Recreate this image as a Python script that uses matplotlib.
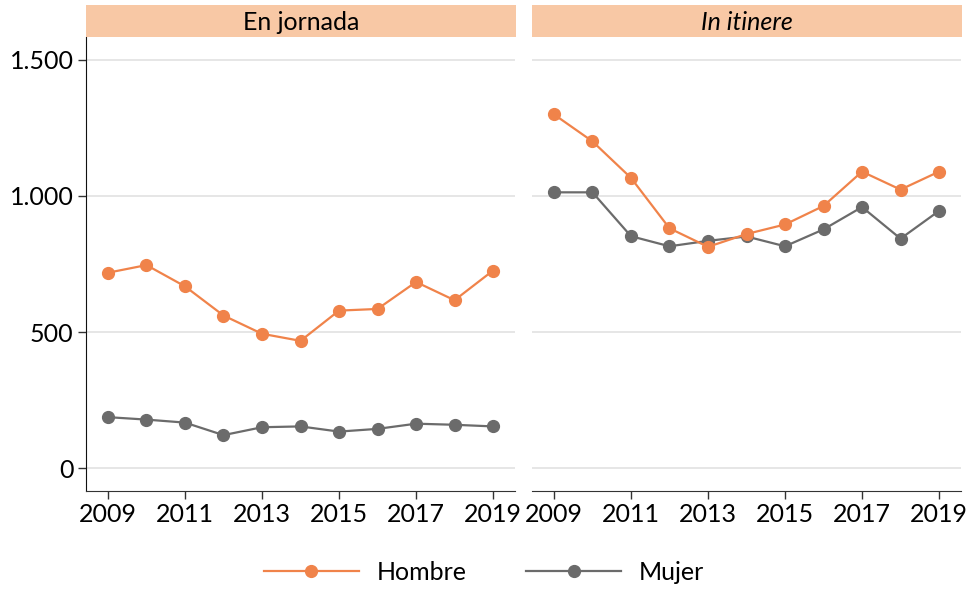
import matplotlib.pyplot as plt
from matplotlib.lines import Line2D
from matplotlib.ticker import FuncFormatter

plt.rcParams['font.family'] = ['Lato', 'DejaVu Sans']

years = list(range(2009, 2020))
paneles = ['En jornada', 'In itinere']

# valores
hombre_jornada = [718, 746, 668, 561, 494, 468, 579, 585, 684, 617, 726]
mujer_jornada = [188, 179, 168, 122, 151, 154, 135, 145, 164, 160, 154]
hombre_itinere = [1299, 1200, 1066, 881, 813, 860, 895, 963, 1089, 1023, 1089]
mujer_itinere = [1013, 1013, 852, 815, 835, 851, 815, 877, 959, 843, 945]

naranja = '#F0834A'
gris = '#6B6B6B'
franja = '#F8C8A5'

W, H = 974, 589
fig = plt.figure(figsize=(W / 100, H / 100), dpi=100)

def px_axes(x0, y0, x1, y1):
    return fig.add_axes([x0 / W, 1 - y1 / H, (x1 - x0) / W, (y1 - y0) / H])

def miles(v, pos):
    return f"{int(v):,}".replace(',', '.')

datos = [(hombre_jornada, mujer_jornada), (hombre_itinere, mujer_itinere)]
posiciones = [(86, 515), (532, 961)]

for i, ((h, m), (x0, x1)) in enumerate(zip(datos, posiciones)):
    ax = px_axes(x0, 37, x1, 491)
    ax.plot(years, m, color=gris, lw=1.6, marker='o', ms=8.5, zorder=3)
    ax.plot(years, h, color=naranja, lw=1.6, marker='o', ms=8.5, zorder=3)
    ax.set_xlim(2008.43, 2019.57)
    ax.set_ylim(-83, 1583)
    ax.set_yticks([0, 500, 1000, 1500])
    ax.yaxis.set_major_formatter(FuncFormatter(miles))
    ax.set_xticks(years[::2])
    ax.grid(axis='y', color='#E4E4E4', lw=1.3)
    ax.set_axisbelow(True)
    for s in ['top', 'right']:
        ax.spines[s].set_visible(False)
    ax.spines['bottom'].set_color('#333333')
    ax.tick_params(axis='x', length=6, width=1, color='#333333', labelsize=18, pad=3)
    if i == 0:
        ax.spines['left'].set_color('#111111')
        ax.tick_params(axis='y', length=6, width=1, color='#333333', labelsize=18, pad=3)
    else:
        ax.spines['left'].set_visible(False)
        ax.tick_params(axis='y', left=False, labelleft=False)

    # franja del titulo del panel
    st = px_axes(x0, 5, x1 + 1, 37)
    st.set_facecolor(franja)
    st.set_xticks([])
    st.set_yticks([])
    for s in st.spines.values():
        s.set_visible(False)
    st.text(0.5, 0.45, paneles[i], ha='center', va='center', fontsize=18,
            style='italic' if i == 1 else 'normal', transform=st.transAxes)

handles = [
    Line2D([], [], color=naranja, lw=1.6, marker='o', ms=8.5, label='Hombre'),
    Line2D([], [], color=gris, lw=1.6, marker='o', ms=8.5, label='Mujer'),
]
fig.legend(handles=handles, loc='center', bbox_to_anchor=(484 / W, 1 - 572 / H),
           ncol=2, frameon=False, fontsize=18, handlelength=3.8,
           handletextpad=0.7, columnspacing=2.4)

fig.savefig('out.png', dpi=100)
